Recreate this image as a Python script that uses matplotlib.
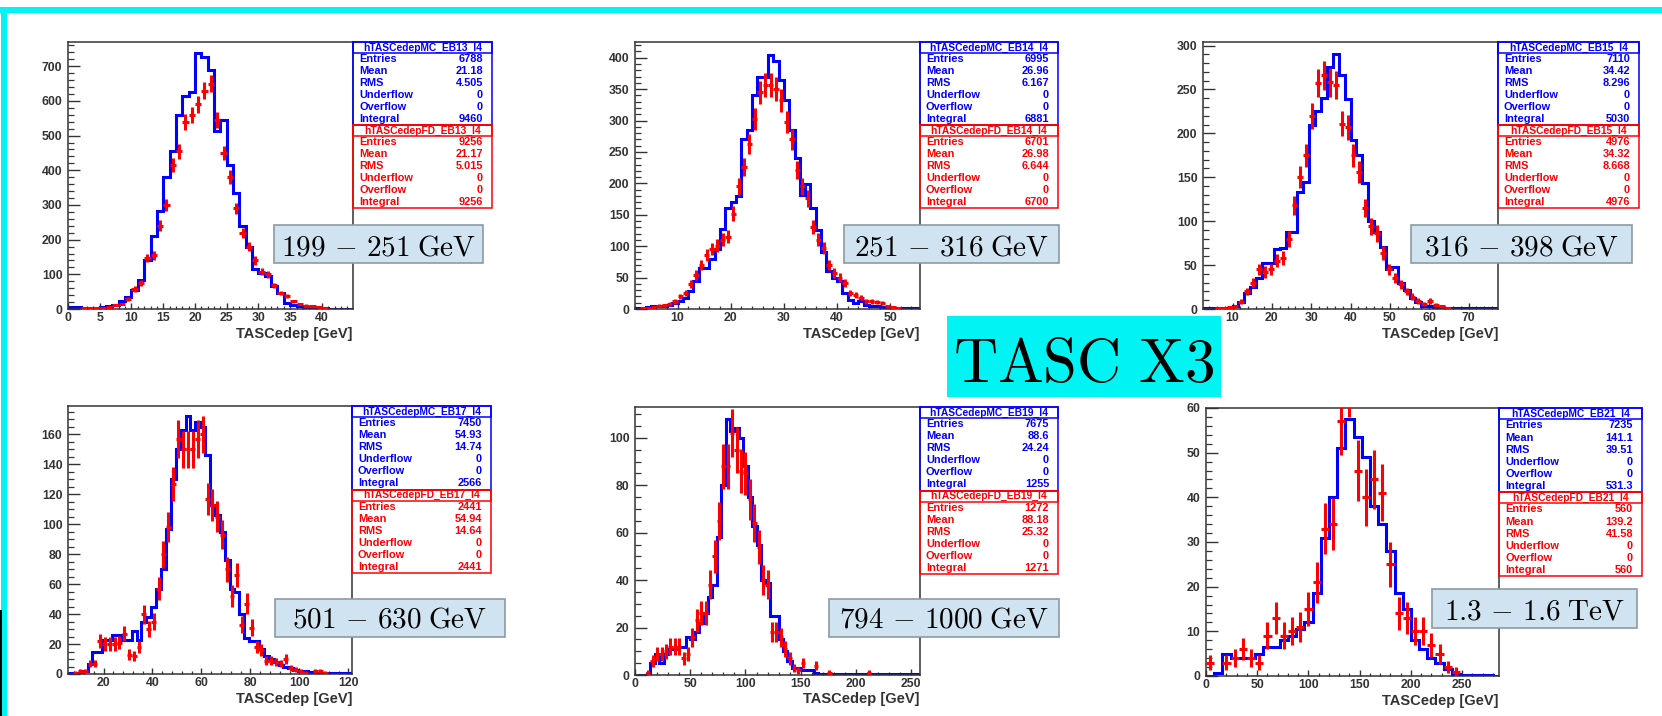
import numpy as np
import matplotlib
matplotlib.use("Agg")
import matplotlib.pyplot as plt
from matplotlib.patches import Rectangle
from matplotlib.ticker import MultipleLocator

nan = np.nan

# ---------------- histogram contents (MC = blue steps, FD = red points) ----------------
p1_lo, p1_bin = 0.0, 1.0
p1_mc = [5, 5, 3, 3, 3, 5, 8, 12, 22, 35, 55, 85, 140, 211, 283, 382, 455, 559, 613, 626,
         738, 728, 690, 512, 545, 415, 334, 240, 180, 115, 104, 95, 65, 46, 17, 12, 8, 5, 3, 3,
         2, 1, 1, 1, 1]
p1_fd = [nan, nan, 2, 3, 3, 4, 6, 12, 14, 28, 58, 76, 147, 155, 240, 300, 415, 455, 540, 560,
         590, 630, 650, 545, 450, 380, 290, 220, 180, 140, 108, 100, 68, 46, 38, 22, 14, 10, 8, 5,
         2, nan, nan, nan, nan]

p2_lo, p2_bin = 2.0, 1.0
p2_mc = [2, 2, 3, 4, 5, 5, 7, 10,
         12, 18, 28, 45, 65, 65, 80, 95, 127, 160,
         170, 180, 270, 285, 340, 370, 370, 405, 395, 365,
         333, 285, 240, 181, 199, 160, 125, 90, 60, 50,
         45, 25, 15, 10, 12, 6, 5, 4, 3, 2,
         1, 1, 1, 1, 1, 1]
p2_fd = [nan, 2, 2, 3, 5, 6, 8, 12,
         20, 25, 40, 54, 70, 86, 95, 101, 110, 115,
         152, 195, 226, 263, 303, 345, 356, 356, 350, 332,
         298, 270, 221, 195, 176, 131, 110, 97, 70, 57,
         50, 41, 25, 22, 18, 12, 12, 11, 10, 4,
         3, 2, nan, nan, nan, nan]

p3_lo, p3_bin = 2.5, 1.5
p3_mc = [1, 1, 1, 1, 1, 3, 8, 18, 25, 35, 52, 52, 68, 70, 88, 88, 133, 145, 210, 225,
         240, 275, 290, 266, 239, 192, 175, 143, 100, 88, 71, 45, 48, 30, 22, 12, 8, 3, 3, 2,
         1, 1, 1, 1, 1, 1, 1, 1, 1, 1]
p3_fd = [nan, nan, 1, 1, 2, 3, 8, 20, 30, 45, 42, 45, 55, 58, 80, 118, 150, 175, 220, 257,
         266, 258, 255, 211, 207, 175, 156, 115, 94, 86, 64, 45, 35, 28, 20, 14, 9, 6, 9, 5,
         3, 1, nan, nan, nan, nan, nan, nan, nan, nan]

p4_lo, p4_bin = 5.5, 2.0
p4_mc = [0.5, 0.5, 1, 2, 7, 15, 15, 23, 23, 26, 26, 23, 23, 29, 23, 35, 38, 45, 57, 70,
         97, 130, 150, 163, 172, 163, 168, 165, 146, 113, 106, 95, 76, 57, 55, 40, 24, 22, 22, 17,
         12, 10, 8, 6, 5, 4, 3, 2, 2, 1.5, 1, 1, 1, 0.5, 0.5, 0.5, 0.5, 0.5]
p4_fd = [nan, 1, 2, 2, 7, 7, 22, 20, 20, 20, 21, 27, 13, 12, 18, 40, 30, 35, 57, 80,
         98, 127, 157, 150, 150, 150, 157, 160, 117, 113, 105, 93, 70, 52, 66, 33, 47, 31, 18, 16,
         9, 9, 8, 7, 10, 4, 3, 2, 1, nan, 2, 2, 1, nan, nan, nan, nan, nan]

p5_lo, p5_bin = 2.0, 4.0
p5_mc = [0, 0, 0, 5, 9, 5, 9, 11, 11, 12, 12, 16, 15, 18, 22, 26, 33, 38, 58, 80,
         108, 103, 104, 100, 88, 75, 63, 55, 40, 39, 25, 25, 15, 10, 6, 3, 3, 2, 2, 2,
         1, 0.3, 0.3, 0.3, 0.3, 0.3, 0.3, 0.3, 0.3, 0.3, 0.3, 0.3, 0.3, 0.3, 0.3, 0.3,
         0.3, 0.3, 0.3, 0.3, 0.3, 0.3, 0.3, 0.3]
p5_fd = [nan, nan, 1, 6, 9, 9, 10, 12, 12, 12, 7, 9, 16, 23, 26, 26, 38, 50, 65, 88,
         88, 102, 95, 86, 85, 74, 64, 54, 40, 38, 18, 18, 16, 11, 7, 3, 2, 5, nan, nan,
         4, nan, nan, 1, nan, nan, nan, nan, nan, nan, nan, nan, 1, nan, nan, nan,
         nan, nan, nan, nan, nan, nan, nan, nan]

p6_lo, p6_bin = 0.0, 8.0
p6_mc = [0, 0.7, 5, 4, 4, 4, 5, 6.5, 6.5, 8, 9, 10.5, 12, 18.5, 31, 40, 51, 57.5, 53.5, 49,
         38, 34, 28, 18.6, 15, 8, 6, 4, 3, 1.5, 0.5, 0.3, 0.3, 0.3, 0.3, 0]
p6_fd = [3, nan, 3, 4, 6, 4, 3, 9, 13, 9, 10, 11, 15, 21, 33, 34, 57, 66, 46, 40,
         44, 41, 25, 14, 13, 10, 10, 7, 5, 2, 1, nan, nan, nan, nan, nan]

# ---------------- statistics boxes ----------------
stat_rows = ["Entries", "Mean", "RMS", "Underflow", "Overflow", "Integral"]
p1_names = ["hTASCedepMC_EB13_l4", "hTASCedepFD_EB13_l4"]
p1_mc_stats = ["6788", "21.18", "4.505", "0", "0", "9460"]
p1_fd_stats = ["9256", "21.17", "5.015", "0", "0", "9256"]
p2_names = ["hTASCedepMC_EB14_l4", "hTASCedepFD_EB14_l4"]
p2_mc_stats = ["6995", "26.96", "6.167", "0", "0", "6881"]
p2_fd_stats = ["6701", "26.98", "6.644", "0", "0", "6700"]
p3_names = ["hTASCedepMC_EB15_l4", "hTASCedepFD_EB15_l4"]
p3_mc_stats = ["7110", "34.42", "8.296", "0", "0", "5030"]
p3_fd_stats = ["4976", "34.32", "8.668", "0", "0", "4976"]
p4_names = ["hTASCedepMC_EB17_l4", "hTASCedepFD_EB17_l4"]
p4_mc_stats = ["7450", "54.93", "14.74", "0", "0", "2566"]
p4_fd_stats = ["2441", "54.94", "14.64", "0", "0", "2441"]
p5_names = ["hTASCedepMC_EB19_l4", "hTASCedepFD_EB19_l4"]
p5_mc_stats = ["7675", "88.6", "24.24", "0", "0", "1255"]
p5_fd_stats = ["1272", "88.18", "25.32", "0", "0", "1271"]
p6_names = ["hTASCedepMC_EB21_l4", "hTASCedepFD_EB21_l4"]
p6_mc_stats = ["7235", "141.1", "39.51", "0", "0", "531.3"]
p6_fd_stats = ["560", "139.2", "41.58", "0", "0", "560"]

energy_labels = [r"$199\,-\,251\;\mathrm{GeV}$", r"$251\,-\,316\;\mathrm{GeV}$",
                 r"$316\,-\,398\;\mathrm{GeV}$", r"$501\,-\,630\;\mathrm{GeV}$",
                 r"$794\,-\,1000\;\mathrm{GeV}$", r"$1.3\,-\,1.6\;\mathrm{TeV}$"]
x_title = "TASCedep [GeV]"
banner = r"$\mathrm{TASC\ X3}$"

# ---------------- figure ----------------
plt.rcParams["mathtext.fontset"] = "cm"
plt.rcParams["font.family"] = ["Liberation Sans", "DejaVu Sans"]
plt.rcParams["font.weight"] = "bold"

W, H = 1662, 716
fig = plt.figure(figsize=(W / 100, H / 100), dpi=100)
fig.patch.set_facecolor("white")

CYAN = "#00f4f4"
BLUE = "#0000ff"
RED = "#ff0000"
INK = "#333333"


def fx(x):
    return x / W


def fy(y):
    return 1 - y / H


def rect(x0, y0, x1, y1, **kw):
    r = Rectangle((fx(x0), fy(y1)), (x1 - x0) / W, (y1 - y0) / H,
                  transform=fig.transFigure, **kw)
    fig.add_artist(r)
    return r


# page frame
rect(0, 7, W, 13, facecolor=CYAN, edgecolor="none", zorder=0)
rect(1, 7, 7, H, facecolor=CYAN, edgecolor="none", zorder=0)
rect(0, 610, 1.6, H, facecolor="black", edgecolor="none", zorder=0)


def stat_box(x0, x1, y0, y1, names, mc_vals, fd_vals):
    half = (y1 - y0) / 2
    head = half * 0.135
    row = (half - head) / 6
    for k, (name, vals, col) in enumerate([(names[0], mc_vals, BLUE), (names[1], fd_vals, RED)]):
        top = y0 + k * half
        rect(x0, top, x1, top + half, fill=False, edgecolor=col, lw=1.1, zorder=4)
        rect(x0, top, x1, top + head, fill=False, edgecolor=col, lw=1.1, zorder=4)
        fig.text(fx((x0 + x1) / 2), fy(top + head / 2), name, ha="center", va="center",
                 fontsize=7.4, color=col, zorder=5)
        for j, (lab, val) in enumerate(zip(stat_rows, vals)):
            yc = top + head + row * (j + 0.5)
            fig.text(fx(x0 + 6), fy(yc), lab, ha="left", va="center",
                     fontsize=7.9, color=col, zorder=5)
            fig.text(fx(x1 - 9), fy(yc), val, ha="right", va="center",
                     fontsize=7.9, color=col, zorder=5)


panels = [
    dict(lo=p1_lo, bw=p1_bin, mc=p1_mc, fd=p1_fd, names=p1_names, ms=p1_mc_stats, fs=p1_fd_stats,
         box=(68, 353, 42, 309), xlim=(0, 44.9), ylim=(0, 770), xt=(5, 1), yt=(100, 20),
         stat=(353, 492, 42, 208), lab=(274, 483, 225, 263, 255), tbase=338),
    dict(lo=p2_lo, bw=p2_bin, mc=p2_mc, fd=p2_fd, names=p2_names, ms=p2_mc_stats, fs=p2_fd_stats,
         box=(635, 920, 42, 309), xlim=(2, 55.6), ylim=(0, 425), xt=(10, 2), yt=(50, 10),
         stat=(920, 1058, 42, 208), lab=(844, 1059, 225, 263, 255), tbase=338),
    dict(lo=p3_lo, bw=p3_bin, mc=p3_mc, fd=p3_fd, names=p3_names, ms=p3_mc_stats, fs=p3_fd_stats,
         box=(1203, 1498, 42, 309), xlim=(2.5, 77.5), ylim=(0, 304), xt=(10, 2), yt=(50, 10),
         stat=(1498, 1639, 42, 208), lab=(1411, 1632, 225, 263, 255), tbase=338),
    dict(lo=p4_lo, bw=p4_bin, mc=p4_mc, fd=p4_fd, names=p4_names, ms=p4_mc_stats, fs=p4_fd_stats,
         box=(68, 352, 406, 674), xlim=(5.5, 121.5), ylim=(0, 179), xt=(20, 4), yt=(20, 5),
         stat=(352, 491, 406, 573), lab=(275, 505, 599, 637, 628), tbase=703),
    dict(lo=p5_lo, bw=p5_bin, mc=p5_mc, fd=p5_fd, names=p5_names, ms=p5_mc_stats, fs=p5_fd_stats,
         box=(635, 920, 407, 675), xlim=(0, 258), ylim=(0, 113), xt=(50, 10), yt=(20, 5),
         stat=(920, 1058, 407, 574), lab=(829, 1059, 599, 637, 628), tbase=703),
    dict(lo=p6_lo, bw=p6_bin, mc=p6_mc, fd=p6_fd, names=p6_names, ms=p6_mc_stats, fs=p6_fd_stats,
         box=(1206, 1499, 408, 676), xlim=(0, 286), ylim=(0, 60), xt=(50, 10), yt=(10, 2),
         stat=(1499, 1642, 408, 576), lab=(1432, 1637, 589, 628, 619), tbase=705),
]

for p, text in zip(panels, energy_labels):
    x0, x1, y0, y1 = p["box"]
    ax = fig.add_axes([fx(x0), fy(y1), (x1 - x0) / W, (y1 - y0) / H])
    mc = np.asarray(p["mc"], float)
    fd = np.asarray(p["fd"], float)
    edges = p["lo"] + p["bw"] * np.arange(len(mc) + 1)
    centers = 0.5 * (edges[:-1] + edges[1:])

    ax.stairs(mc, edges, baseline=0, color=BLUE, lw=2.2, zorder=2)
    ok = np.isfinite(fd)
    ax.errorbar(centers[ok], fd[ok], yerr=np.sqrt(fd[ok]), xerr=p["bw"] / 2,
                fmt="none", ecolor=RED, elinewidth=2.2, capsize=0, zorder=3)

    ax.set_xlim(*p["xlim"])
    ax.set_ylim(*p["ylim"])
    ax.xaxis.set_major_locator(MultipleLocator(p["xt"][0]))
    ax.xaxis.set_minor_locator(MultipleLocator(p["xt"][1]))
    ax.yaxis.set_major_locator(MultipleLocator(p["yt"][0]))
    ax.yaxis.set_minor_locator(MultipleLocator(p["yt"][1]))
    ax.tick_params(which="both", direction="in", top=False, right=False,
                   color=INK, labelcolor=INK, labelsize=8.8)
    ax.tick_params(axis="y", which="major", length=8.6, width=1.0, pad=4)
    ax.tick_params(axis="y", which="minor", length=4.3, width=0.9)
    ax.tick_params(axis="x", which="major", length=4.5, width=1.0, pad=2)
    ax.tick_params(axis="x", which="minor", length=2.3, width=0.9)
    for s in ax.spines.values():
        s.set_linewidth(1.1)
        s.set_color(INK)

    fig.text(fx(x1), fy(p["tbase"]), x_title, ha="right", va="baseline",
             fontsize=10.5, color=INK)

    stat_box(*p["stat"], p["names"], p["ms"], p["fs"])

    lx0, lx1, ly0, ly1, lbase = p["lab"]
    rect(lx0, ly0, lx1, ly1, facecolor="#cfe3f1", edgecolor="#8d9aa4", lw=1.2, zorder=6)
    fig.text(fx((lx0 + lx1) / 2), fy(lbase), text, ha="center", va="baseline",
             fontsize=21, color="black", zorder=7)

# central banner
rect(947, 316, 1221, 397, facecolor=CYAN, edgecolor="none", zorder=6)
fig.text(fx(1084), fy(382), banner, ha="center", va="baseline", fontsize=44,
         color="black", zorder=7)

fig.savefig("out.png", dpi=100, facecolor="white")
